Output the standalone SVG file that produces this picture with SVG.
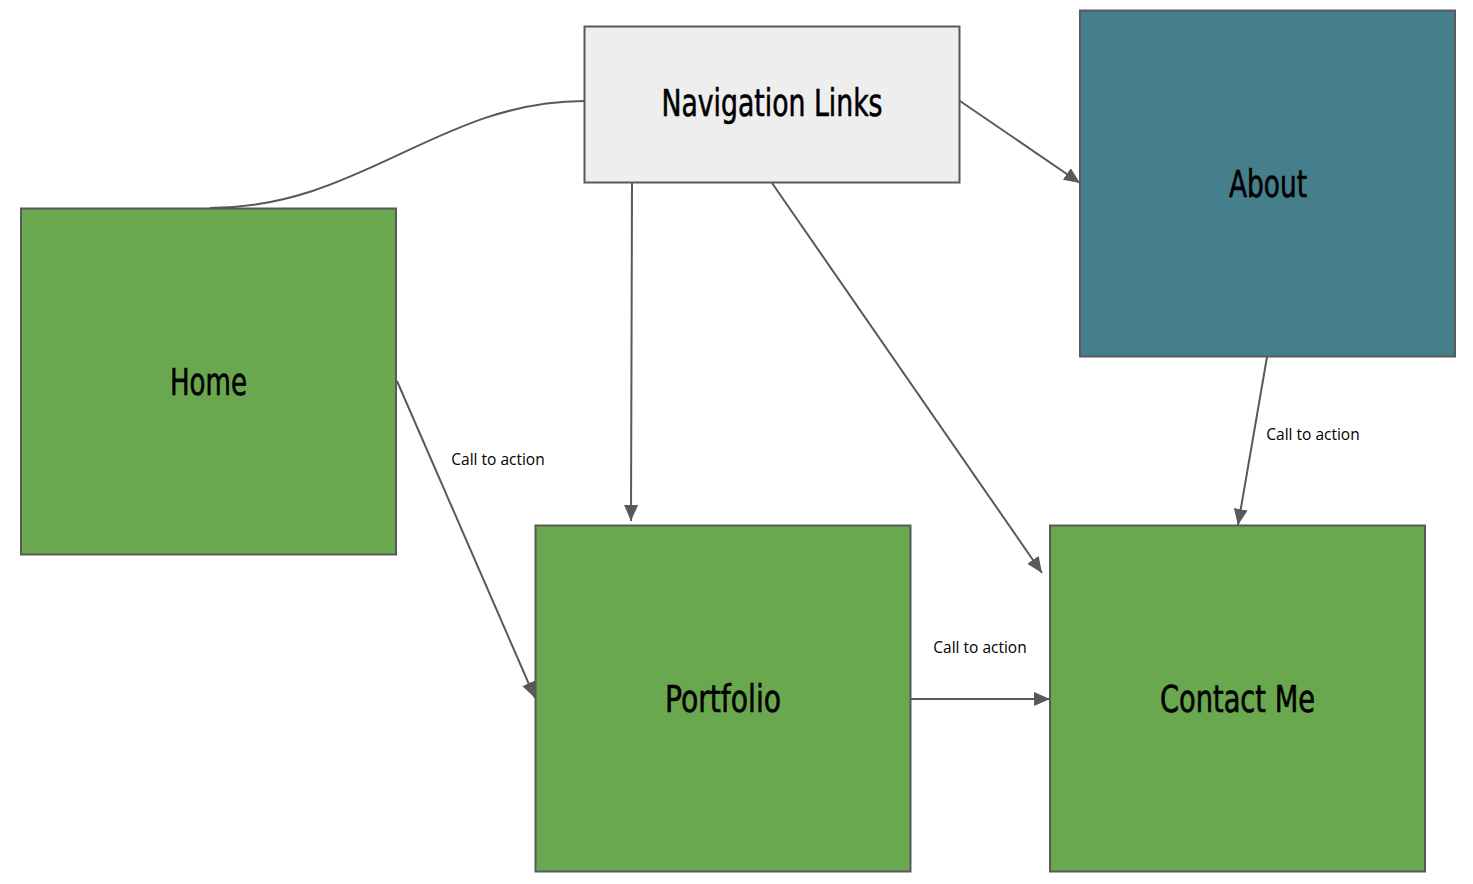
<svg xmlns="http://www.w3.org/2000/svg" width="1473" height="884" viewBox="0 0 1473 884">
<style>
.node{stroke:#595959;stroke-width:2}
.title{font-family:"DejaVu Sans","Liberation Sans",sans-serif;font-stretch:condensed;font-size:37px;fill:#000;text-anchor:middle;stroke:#000;stroke-width:0.6}
.lbl{font-family:"Open Sans","Liberation Sans",sans-serif;font-size:15.5px;fill:#000;text-anchor:middle}
.edge{fill:none;stroke:#595959;stroke-width:2}
</style>
<defs>
<marker id="arr" markerUnits="userSpaceOnUse" markerWidth="17" markerHeight="15" refX="16" refY="7" orient="auto">
<path d="M0,0 L16,7 L0,14 z" fill="#595959"/>
</marker>
</defs>
<rect width="1473" height="884" fill="#ffffff"/>
<g id="connectors">
<path class="edge" d="M584,101 C440,101 360,208 210,208"/>
<path class="edge" d="M960,101 L1080,183" marker-end="url(#arr)"/>
<path class="edge" d="M632,183 L631,521" marker-end="url(#arr)"/>
<path class="edge" d="M772,183 L1042,573" marker-end="url(#arr)"/>
<path class="edge" d="M397,381 L535,698" marker-end="url(#arr)"/>
<path class="edge" d="M910,699 L1050,699" marker-end="url(#arr)"/>
<path class="edge" d="M1267,357 L1238,525" marker-end="url(#arr)"/>
<text class="lbl" x="498" y="465">Call to action</text>
<text class="lbl" x="980" y="653">Call to action</text>
<text class="lbl" x="1313" y="440">Call to action</text>
</g>
<g id="nav">
<rect class="node" x="584.5" y="26.5" width="375" height="156" fill="#eeeeee"/>
<text class="title" x="772" y="116" textLength="221" lengthAdjust="spacingAndGlyphs">Navigation Links</text>
</g>
<g id="about">
<rect class="node" x="1080" y="10.5" width="375" height="346" fill="#457f8c"/>
<text class="title" x="1268" y="197" textLength="78" lengthAdjust="spacingAndGlyphs">About</text>
</g>
<g id="home">
<rect class="node" x="21" y="208.5" width="375" height="346" fill="#6aa84f"/>
<text class="title" x="208.5" y="395" textLength="77" lengthAdjust="spacingAndGlyphs">Home</text>
</g>
<g id="portfolio">
<rect class="node" x="535.5" y="525.5" width="375" height="346" fill="#6aa84f"/>
<text class="title" x="723" y="712" textLength="116" lengthAdjust="spacingAndGlyphs">Portfolio</text>
</g>
<g id="contact">
<rect class="node" x="1050" y="525.5" width="375" height="346" fill="#6aa84f"/>
<text class="title" x="1237.5" y="712" textLength="155" lengthAdjust="spacingAndGlyphs">Contact Me</text>
</g>
</svg>
